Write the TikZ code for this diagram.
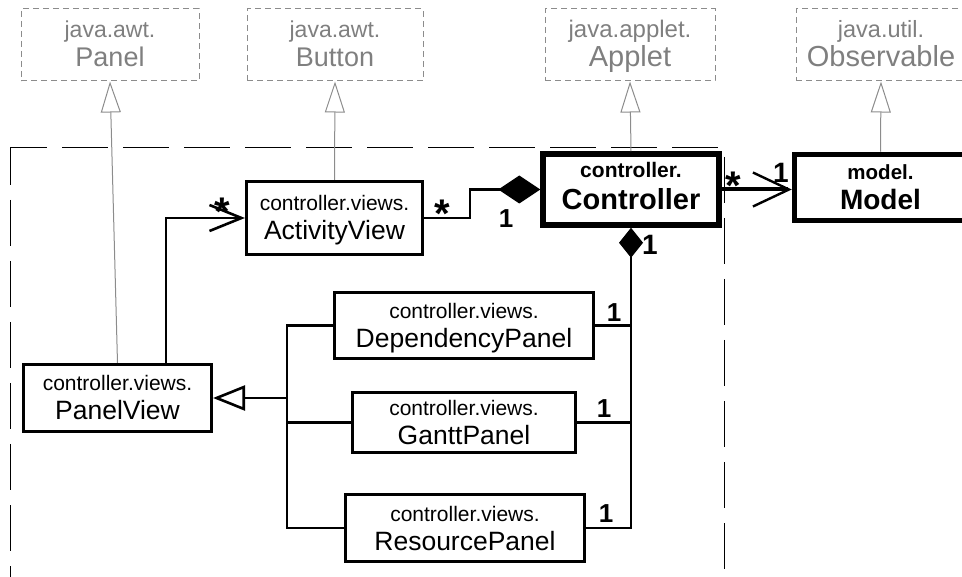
\documentclass[tikz,border=0pt]{standalone}
\usepackage{fontspec}
\setmainfont{Liberation Sans}
\usetikzlibrary{arrows.meta}
\definecolor{txtgray}{HTML}{7F7F7F}
\definecolor{lngray}{HTML}{8C8C8C}
\newcommand\fsz[1]{\fontsize{#1}{#1}\selectfont}
\newcommand\umlbox[9]{%
  \node[#2, minimum width=#5, minimum height=#6] (#1) at (#3,#4) {};
  \path (#1.center) ++(0,#7) node[anchor=base]{#8} ++(0,29) node[anchor=base]{#9};
}
\begin{document}
\begin{tikzpicture}[x=1pt,y=-1pt,
  graybox/.style={draw=lngray, dash pattern=on 6pt off 4pt, line width=1pt, inner sep=0pt},
  thinbox/.style={draw, line width=2.6pt, inner sep=0pt, fill=white},
  thickbox/.style={draw, line width=5.5pt, inner sep=0pt, fill=white},
  conn/.style={line width=2.6pt},
  grayline/.style={draw=lngray, line width=1pt},
  gentip/.style={-{Triangle[open, length=31pt, width=20pt]}},
  mult/.style={font=\bfseries\fsz{26}, anchor=base, inner sep=0pt},
  multbig/.style={font=\bfseries\fsz{28}, anchor=base, inner sep=0pt},
  star/.style={font=\bfseries\fsz{40}, anchor=base, inner sep=0pt},
]
\useasboundingbox (0,0) rectangle (962,577);

% package frame
\draw[line width=1pt, dash pattern=on 46pt off 15pt, dash phase=9pt] (10,148) -- (724,148) -- (724,600);
\draw[line width=1pt, dash pattern=on 46pt off 15pt, dash phase=9pt] (10,148) -- (10,600);

% library classes
\umlbox{panel}{graybox}{110}{45}{178}{72}{-7}{\color{txtgray}\fsz{23}java.awt.}{\color{txtgray}\fsz{27}Panel}
\umlbox{button}{graybox}{335}{45}{176}{72}{-7}{\color{txtgray}\fsz{23}java.awt.}{\color{txtgray}\fsz{27}Button}
\umlbox{applet}{graybox}{630}{45}{170}{72}{-7}{\color{txtgray}\fsz{24}java.applet.}{\color{txtgray}\fsz{29}Applet}
\umlbox{observable}{graybox}{881}{45}{170}{72}{-7}{\color{txtgray}\fsz{23.5}java.util.}{\color{txtgray}\fsz{29}Observable}

% view classes
\umlbox{activity}{thinbox}{334.5}{218}{176.5}{73.5}{-7}{\fsz{21}controller.views.}{\fsz{26.5}ActivityView}
\umlbox{panelview}{thinbox}{117.5}{398}{188.5}{67.5}{-7}{\fsz{21}controller.views.}{\fsz{26.5}PanelView}
\umlbox{dependency}{thinbox}{464}{325.5}{259.5}{66.5}{-7}{\fsz{21}controller.views.}{\fsz{26.5}DependencyPanel}
\umlbox{gantt}{thinbox}{464}{422.5}{223.5}{60.5}{-7}{\fsz{21}controller.views.}{\fsz{26.5}GanttPanel}
\umlbox{resource}{thinbox}{465}{528}{239.5}{67.5}{-7}{\fsz{21}controller.views.}{\fsz{26.5}ResourcePanel}

% controller and model
\node[thickbox, minimum width=176, minimum height=71] (controller) at (631,189.5) {};
\path (controller.center) ++(0,-11.5) node[anchor=base]{\bfseries\fsz{21}controller.}
      ++(0,32) node[anchor=base]{\bfseries\fsz{29}Controller};
\node[thickbox, minimum width=172, minimum height=66] (model) at (880.5,187.5) {};
\path (model.center) ++(0,-7.5) node[anchor=base]{\bfseries\fsz{20.5}model.}
      ++(0,30) node[anchor=base]{\bfseries\fsz{28}Model};

% inheritance from library classes
\draw[grayline, gentip] (panelview.north) -- (panel.south);
\draw[grayline, gentip] (activity.north) -- (button.south);
\draw[grayline, gentip] (controller.north) -- (applet.south);
\draw[grayline, gentip] (model.north) -- (observable.south);

% ActivityView -- Controller composition
\draw[conn, -{Diamond[length=42pt, width=28pt]}] (activity.east) -- ++(46,0) |- (controller.west);

% PanelView -> ActivityView navigation
\draw[conn, -{Straight Barb[length=32pt, width=26pt]}] ([xshift=48.5pt]panelview.north) |- (activity.west);

% Controller -> Model
\draw[line width=4pt, -{Straight Barb[length=36pt, width=34pt, line width=2.4pt]}] (controller.east) -- (controller.east -| model.west);

% generalization of panels
\coordinate (bus) at (287,398);
\draw[conn] (dependency.west) -| (bus);
\draw[conn] (gantt.west) -| (bus);
\draw[conn] (resource.west) -| (bus);
\draw[conn, -{Triangle[open, length=32pt, width=25pt]}] (bus) -- (panelview.east);

% composition Controller -- panels
\draw[conn] (dependency.east) -- (dependency.east -| controller.south);
\draw[conn] (gantt.east) -- (gantt.east -| controller.south);
\draw[conn, -{Diamond[length=30pt, width=24pt]}] (resource.east) -| (controller.south);

% multiplicities
\node[star] (m1) at (222,226) {*};
\node[star] (m2) at (442,228) {*};
\node[star] (m3) at (733,200) {*};
\node[mult] (m4) at (506,228) {1};
\node[multbig] (m5) at (781,183) {1};
\node[multbig] (m6) at (650,255) {1};
\node[mult] (m7) at (614,322) {1};
\node[mult] (m8) at (604,418) {1};
\node[mult] (m9) at (606,522) {1};
\end{tikzpicture}
\end{document}
